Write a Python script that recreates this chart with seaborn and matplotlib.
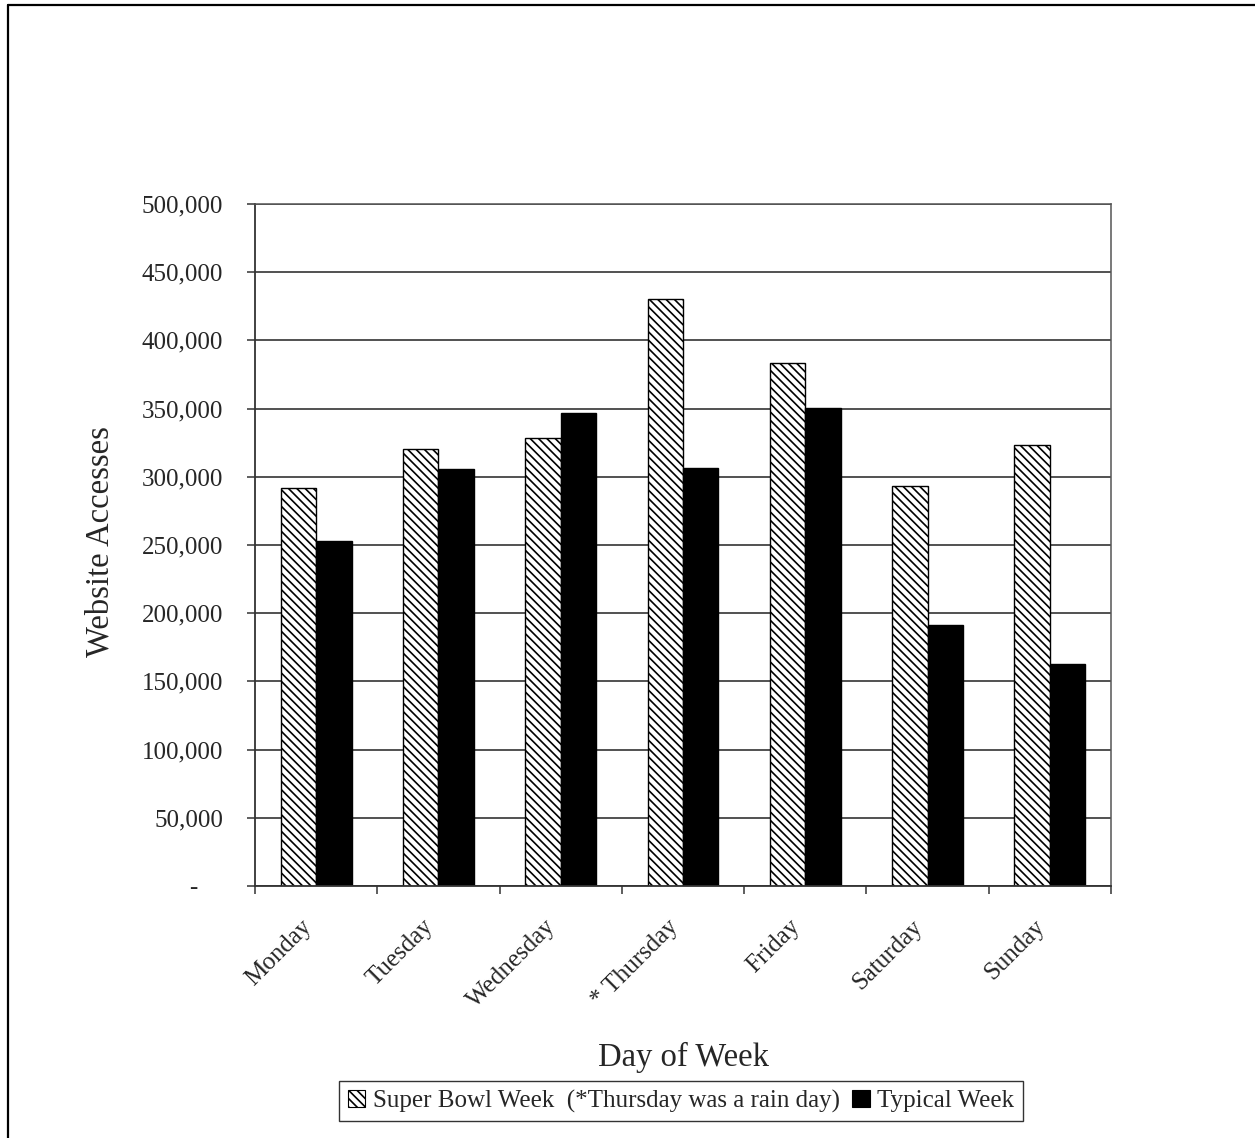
import matplotlib
matplotlib.use("Agg")
import matplotlib.pyplot as plt
import matplotlib.patches as mpatches
import matplotlib.lines as mlines
import matplotlib.transforms as mtransforms
from matplotlib.ticker import FixedLocator, FuncFormatter
import seaborn as sns
import pandas as pd

days = ["Monday", "Tuesday", "Wednesday", "* Thursday", "Friday", "Saturday", "Sunday"]
super_bowl = [292000, 320500, 328500, 430000, 383500, 293000, 323000]
typical = [253000, 305500, 347000, 306500, 350500, 191000, 162500]
series_names = ["Super Bowl Week  (*Thursday was a rain day)", "Typical Week"]
y_ticks = [0, 50000, 100000, 150000, 200000, 250000, 300000, 350000, 400000, 450000, 500000]

df = pd.DataFrame({
    "day": days * 2,
    "value": super_bowl + typical,
    "week": [series_names[0]] * len(days) + [series_names[1]] * len(days),
})

sns.set_style("white")
plt.rcParams["font.family"] = ["Liberation Serif", "DejaVu Serif"]
plt.rcParams["hatch.linewidth"] = 1.2
HATCH = "\\\\\\\\"

W, H = 1255, 1138
fig = plt.figure(figsize=(W / 100, H / 100), dpi=100)
ax = fig.add_axes([255 / W, 1 - 886 / H, (1111 - 255) / W, (886 - 204) / H])

sns.barplot(data=df, x="day", y="value", hue="week", order=days, hue_order=series_names,
            palette=["white", "black"], edgecolor="black", linewidth=1.0,
            width=0.58, gap=0, ax=ax, legend=False, saturation=1)

for bar in ax.containers[0]:
    bar.set_hatch(HATCH)
    bar.set_facecolor("white")
    bar.set_edgecolor("black")

ax.set_ylim(0, 500000)
ax.set_xlim(-0.5, len(days) - 0.5)
ax.yaxis.set_major_locator(FixedLocator(y_ticks))
ax.yaxis.set_major_formatter(FuncFormatter(lambda v, p: "-    " if v == 0 else f"{int(v):,}"))
ax.grid(axis="y", color="#222222", linewidth=1.1)
ax.set_axisbelow(True)

for s in ["left", "bottom"]:
    ax.spines[s].set_color("#333333")
    ax.spines[s].set_linewidth(1.3)
for s in ["top", "right"]:
    ax.spines[s].set_color("#555555")
    ax.spines[s].set_linewidth(1.1)

ax.tick_params(axis="y", which="major", direction="out", length=6, width=1.1,
               color="#333333", labelsize=18, pad=17, left=True)
ax.set_xticks(range(len(days)))
ax.set_xticklabels(days, rotation=45, ha="right", rotation_mode="anchor", fontsize=18)
ax.set_xticks([i - 0.5 for i in range(len(days) + 1)], minor=True)
ax.tick_params(axis="x", which="major", length=0, pad=14)
ax.tick_params(axis="x", which="minor", direction="out", length=6, width=1.1,
               color="#333333", bottom=True)
shift = mtransforms.ScaledTranslation(-16 / 100, -10 / 100, fig.dpi_scale_trans)
for lbl in ax.get_xticklabels():
    lbl.set_transform(lbl.get_transform() + shift)

ax.set_xlabel("Day of Week", fontsize=23.5)
ax.xaxis.set_label_coords(0.5, -(1057 - 886) / (886 - 204))
ax.xaxis.label.set_verticalalignment("center")
ax.set_ylabel("Website Accesses", fontsize=23.5)
ax.yaxis.set_label_coords(-(255 - 100) / (1111 - 255), 0.505)
ax.yaxis.label.set_verticalalignment("center")
ax.yaxis.label.set_horizontalalignment("center")
ax.yaxis.label.set_rotation_mode("default")

handles = [
    mpatches.Patch(facecolor="white", edgecolor="black", hatch=HATCH, linewidth=0.8),
    mpatches.Patch(facecolor="black", edgecolor="black", linewidth=0.8),
]
leg = fig.legend(handles, series_names, loc="center", bbox_to_anchor=(681 / W, 1 - 1101 / H),
                 ncol=2, fontsize=18, frameon=True, fancybox=False, edgecolor="black",
                 handlelength=0.7, handleheight=0.7, handletextpad=0.3, columnspacing=0.5,
                 borderpad=0.35, borderaxespad=0)
leg.get_frame().set_linewidth(1.0)

fig.lines.append(mlines.Line2D([8 / W, 1.0], [1 - 5 / H, 1 - 5 / H], transform=fig.transFigure,
                               color="black", linewidth=1.6))
fig.lines.append(mlines.Line2D([8 / W, 8 / W], [0.0, 1 - 5 / H], transform=fig.transFigure,
                               color="black", linewidth=1.6))

fig.savefig("out.png", dpi=100)
